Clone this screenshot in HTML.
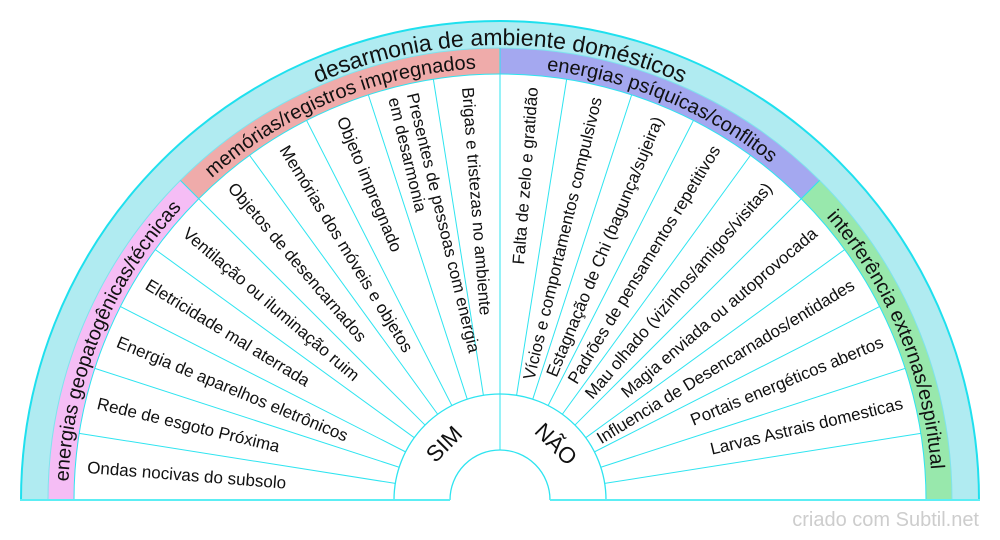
<!DOCTYPE html>
<html>
<head>
<meta charset="utf-8">
<style>
  html, body { margin:0; padding:0; background:#ffffff; }
  body { width:1000px; height:540px; overflow:hidden; }
  svg { display:block; }
  text { font-family: "Liberation Sans", Arial, sans-serif; }
</style>
</head>
<body>
<svg width="1000" height="540" viewBox="0 0 1000 540" xmlns="http://www.w3.org/2000/svg">
  <defs>
    <path id="pPink" d="M68,500 A432,432 0 0 1 194.53,194.53"/>
    <path id="pSalmon" d="M194.53,194.53 A432,432 0 0 1 500,68"/>
    <path id="pPurple" d="M500,68 A432,432 0 0 1 805.47,194.53"/>
    <path id="pGreen" d="M805.47,194.53 A432,432 0 0 1 932,500"/>
    <path id="pTitle" d="M45,500 A455,455 0 0 1 955,500"/>
  </defs>

  <!-- outer blue band -->
  <path d="M21,500 A479,479 0 0 1 979,500 Z" fill="#b0ebf1"/>
  <!-- category sectors -->
  <path d="M500,500 L48,500 A452,452 0 0 1 180.39,180.39 Z" fill="#f5bdf5"/>
  <path d="M500,500 L180.39,180.39 A452,452 0 0 1 500,48 Z" fill="#efabaa"/>
  <path d="M500,500 L500,48 A452,452 0 0 1 819.61,180.39 Z" fill="#a4a8f0"/>
  <path d="M500,500 L819.61,180.39 A452,452 0 0 1 952,500 Z" fill="#98e8ac"/>
  <!-- white interior -->
  <path d="M74,500 A426,426 0 0 1 926,500 Z" fill="#ffffff"/>

  <!-- arc strokes -->
  <path d="M21,500 A479,479 0 0 1 979,500" fill="none" stroke="#1fe0ee" stroke-width="2"/>
  <path d="M48,500 A452,452 0 0 1 952,500" fill="none" stroke="#7fe3ee" stroke-width="1"/>
  <path d="M74,500 A426,426 0 0 1 926,500" fill="none" stroke="#2ee4f0" stroke-width="1"/>
  <path d="M394,500 A106,106 0 0 1 606,500" fill="none" stroke="#2ee4f0" stroke-width="1.3"/>
  <path d="M450,500 A50,50 0 0 1 550,500" fill="none" stroke="#2ee4f0" stroke-width="1.3"/>

  <!-- spokes -->
  <g transform="translate(500,500)" stroke="#2ee4f0" stroke-width="1">
    <line x1="106" y1="0" x2="426" y2="0" transform="rotate(-9)"/>
    <line x1="106" y1="0" x2="426" y2="0" transform="rotate(-18)"/>
    <line x1="106" y1="0" x2="426" y2="0" transform="rotate(-27)"/>
    <line x1="106" y1="0" x2="426" y2="0" transform="rotate(-36)"/>
    <line x1="106" y1="0" x2="452" y2="0" transform="rotate(-45)"/>
    <line x1="106" y1="0" x2="426" y2="0" transform="rotate(-54)"/>
    <line x1="106" y1="0" x2="426" y2="0" transform="rotate(-63)"/>
    <line x1="106" y1="0" x2="426" y2="0" transform="rotate(-72)"/>
    <line x1="106" y1="0" x2="426" y2="0" transform="rotate(-81)"/>
    <line x1="50" y1="0" x2="452" y2="0" transform="rotate(-90)"/>
    <line x1="106" y1="0" x2="426" y2="0" transform="rotate(-99)"/>
    <line x1="106" y1="0" x2="426" y2="0" transform="rotate(-108)"/>
    <line x1="106" y1="0" x2="426" y2="0" transform="rotate(-117)"/>
    <line x1="106" y1="0" x2="426" y2="0" transform="rotate(-126)"/>
    <line x1="106" y1="0" x2="452" y2="0" transform="rotate(-135)"/>
    <line x1="106" y1="0" x2="426" y2="0" transform="rotate(-144)"/>
    <line x1="106" y1="0" x2="426" y2="0" transform="rotate(-153)"/>
    <line x1="106" y1="0" x2="426" y2="0" transform="rotate(-162)"/>
    <line x1="106" y1="0" x2="426" y2="0" transform="rotate(-171)"/>
  </g>

  <!-- baseline -->
  <line x1="20" y1="500" x2="450" y2="500" stroke="#5ceef4" stroke-width="2"/>
  <line x1="550" y1="500" x2="980" y2="500" stroke="#5ceef4" stroke-width="2"/>

  <!-- title and category labels -->
  <text font-size="23" fill="#111"><textPath href="#pTitle" startOffset="50%" text-anchor="middle">desarmonia de ambiente domésticos</textPath></text>
  <text font-size="20" fill="#111"><textPath href="#pPink" startOffset="50%" text-anchor="middle">energias geopatogênicas/técnicas</textPath></text>
  <text font-size="20" fill="#111"><textPath href="#pSalmon" startOffset="50%" text-anchor="middle">memórias/registros impregnados</textPath></text>
  <text font-size="20" fill="#111"><textPath href="#pPurple" startOffset="50%" text-anchor="middle">energias psíquicas/conflitos</textPath></text>
  <text font-size="20" fill="#111"><textPath href="#pGreen" startOffset="50%" text-anchor="middle">interferência externas/espiritual</textPath></text>

  <!-- item labels -->
  <g transform="translate(500,500)" font-size="17" fill="#111" dominant-baseline="central">
    <!-- left side -->
    <text x="-414" y="0" transform="rotate(4.5)">Ondas nocivas do subsolo</text>
    <text x="-414" y="0" transform="rotate(13.5)">Rede de esgoto Próxima</text>
    <text x="-414" y="0" transform="rotate(22.5)">Energia de aparelhos eletrônicos</text>
    <text x="-414" y="0" transform="rotate(31.5)">Eletricidade mal aterrada</text>
    <text x="-414" y="0" transform="rotate(40.5)">Ventilação ou iluminação ruim</text>
    <text x="-414" y="0" transform="rotate(49.5)">Objetos de desencarnados</text>
    <text x="-414" y="0" transform="rotate(58.5)">Memórias dos móveis e objetos</text>
    <text x="-414" y="0" transform="rotate(67.5)">Objeto impregnado</text>
    <text x="-416" y="-9.5" transform="rotate(76.5)">Presentes de pessoas com energia</text>
    <text x="-416" y="9.5" transform="rotate(76.5)">em desarmonia</text>
    <text x="-414" y="0" transform="rotate(85.5)">Brigas e tristezas no ambiente</text>
    <!-- right side -->
    <text x="414" y="0" text-anchor="end" transform="rotate(-85.5)">Falta de zelo e gratidão</text>
    <text x="414" y="0" text-anchor="end" transform="rotate(-76.5)">Vícios e comportamentos compulsivos</text>
    <text x="414" y="0" text-anchor="end" transform="rotate(-67.5)">Estagnação de Chi (bagunça/sujeira)</text>
    <text x="414" y="0" text-anchor="end" transform="rotate(-58.5)">Padrões de pensamentos repetitivos</text>
    <text x="414" y="0" text-anchor="end" transform="rotate(-49.5)">Mau olhado (vizinhos/amigos/visitas)</text>
    <text x="414" y="0" text-anchor="end" transform="rotate(-40.5)">Magia enviada ou autoprovocada</text>
    <text x="414" y="0" text-anchor="end" transform="rotate(-31.5)">Influencia de Desencarnados/entidades</text>
    <text x="414" y="0" text-anchor="end" transform="rotate(-22.5)">Portais energéticos abertos</text>
    <text x="414" y="0" text-anchor="end" transform="rotate(-13.5)">Larvas Astrais domesticas</text>

    <!-- SIM / NÃO -->
    <text x="0" y="-79" font-size="22.5" text-anchor="middle" transform="rotate(-45)">SIM</text>
    <text x="0" y="-79" font-size="22.5" text-anchor="middle" transform="rotate(45)">NÃO</text>
  </g>

  <!-- watermark -->
  <text x="979" y="526" font-size="20" fill="#cdcdcd" text-anchor="end">criado com Subtil.net</text>
</svg>
</body>
</html>
